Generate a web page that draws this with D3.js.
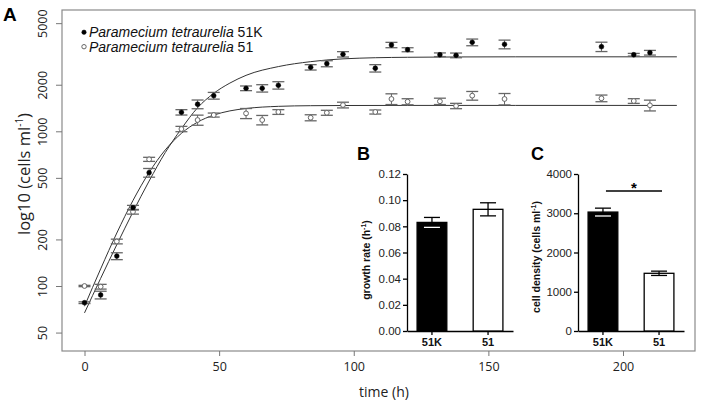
<!DOCTYPE html>
<html><head><meta charset="utf-8">
<script src="https://cdn.jsdelivr.net/npm/d3@7/dist/d3.min.js"></script>
<style>body{margin:0;background:#fff}svg{display:block}</style>
</head><body>
<svg id="c" width="701" height="406"></svg>
<script>
// ---------- data ----------
const times   = [0,6,12,18,24,36,42,48,60,66,72,84,90,96,108,114,120,132,138,144,156,192,204,210];
const mean51K = [78,87.5,156,321,540,1327,1496,1699,1897,1897,1983,2593,2736,3147,2556,3614,3368,3126,3097,3760,3649,3522,3126,3222];
const sem51K  = [1,5,8,11,35,53,97,85,66,104,109,104,123,126,140,144,100,85,108,187,236,245,62,112];
const mean51  = [100,99,194,302,659,1035,1183,1274,1306,1183,1333,1224,1318,1479,1333,1618,1554,1563,1458,1699,1618,1634,1570,1472];
const sem51   = [1,3.5,6.8,10.5,20,41,89,38,98,83,47,55,49,63,40,129,70,74,58,110,137,81,55,118];
// fitted growth curves
const fitTimes = [0,6,12,18,24,30,36,42,48,54,60,72,84,96,120,160,220];
const fit51K   = [67,112,185,301,477,729,1040,1420,1760,2050,2300,2620,2820,2940,3010,3030,3030];
const fit51    = [74,129,220,357,542,758,970,1146,1273,1355,1404,1450,1464,1468,1470,1470,1470];
const xTicks = [0,50,100,150,200];
const yTicks = [50,100,200,500,1000,2000,5000];
// insets
const strains    = ["51K","51"];
const growthRate = [0.083,0.093];
const growthSem  = [0.0038,0.005];
const density    = [3030,1470];
const densitySem = [100,55];
const rateTicks    = [0,0.02,0.04,0.06,0.08,0.10,0.12];
const densityTicks = [0,1000,2000,3000,4000];

const svg = d3.select("#c");
const F1 = "'Open Sans', 'DejaVu Sans', sans-serif";
const F2 = "'Liberation Sans', Arial, sans-serif";

// ---------- main panel A ----------
const L=62, R=695, T=10, B=351;
const x = d3.scaleLinear().domain([0,200]).range([84.5,623]);
const y = d3.scaleLog().domain([100,1000]).range([286,131.3]);

svg.append("rect").attr("x",L).attr("y",T).attr("width",R-L).attr("height",B-T)
  .attr("fill","none").attr("stroke","#8a8a8a").attr("stroke-width",1.2);

const gx = svg.append("g").attr("transform",`translate(0,${B})`)
  .call(d3.axisBottom(x).tickValues(xTicks).tickSize(5).tickPadding(6));
gx.select(".domain").remove();
gx.selectAll(".tick line").attr("stroke","#777");
gx.selectAll("text").attr("font-family",F1).attr("font-size",12.5).attr("fill","#222");

const gy = svg.append("g").attr("transform",`translate(${L},0)`)
  .call(d3.axisLeft(y).tickValues(yTicks).tickFormat(d3.format("d")).tickSize(6));
gy.select(".domain").remove();
gy.selectAll(".tick line").attr("stroke","#777");
gy.selectAll("text").attr("font-family",F1).attr("font-size",12.5).attr("fill","#222")
  .attr("x",0).attr("dy",0).attr("text-anchor","middle")
  .attr("transform","translate(-15,0) rotate(-90)");

svg.append("text").attr("x",384).attr("y",397).attr("text-anchor","middle")
  .attr("font-family",F1).attr("font-size",14).attr("fill","#222").text("time (h)");
const yl = svg.append("text").attr("transform","translate(30,174) rotate(-90)")
  .attr("text-anchor","middle").attr("font-family",F1).attr("font-size",16.5).attr("fill","#222");
yl.append("tspan").text("log10 (cells ml");
yl.append("tspan").attr("font-size",10).attr("dy",-7).text("-1");
yl.append("tspan").attr("dy",7).text(")");

svg.append("text").attr("x",3).attr("y",21).attr("font-family",F2).attr("font-weight","bold")
  .attr("font-size",19).text("A");

// fitted lines
const line = d3.line().curve(d3.curveMonotoneX);
[fit51K, fit51].forEach(vals=>{
  svg.append("path").attr("d", line(fitTimes.map((t,i)=>[x(t), y(vals[i])])))
    .attr("fill","none").attr("stroke","#333").attr("stroke-width",1);
});

// error bars + points
function series(means, sems, filled){
  const g = svg.append("g");
  times.forEach((t,i)=>{
    const cx = x(t), lo = y(means[i]-sems[i]), hi = y(means[i]+sems[i]);
    g.append("line").attr("x1",cx).attr("x2",cx).attr("y1",lo).attr("y2",hi)
      .attr("stroke","#555").attr("stroke-width",0.9);
    [lo,hi].forEach(yy=>g.append("line").attr("x1",cx-6).attr("x2",cx+6).attr("y1",yy).attr("y2",yy)
      .attr("stroke","#666").attr("stroke-width",1.3));
    g.append("circle").attr("cx",cx).attr("cy",y(means[i])).attr("r",2.4)
      .attr("fill",filled?"#000":"#fff").attr("stroke",filled?"#000":"#666").attr("stroke-width",filled?0.5:1);
  });
}
series(mean51, sem51, false);
series(mean51K, sem51K, true);

// legend
const leg = [{lab:"51K",filled:true,y:37},{lab:"51",filled:false,y:51.5}];
leg.forEach(d=>{
  svg.append("circle").attr("cx",84).attr("cy",d.y-4.8).attr("r",2.2)
    .attr("fill",d.filled?"#000":"#fff").attr("stroke",d.filled?"#000":"#666").attr("stroke-width",d.filled?0.5:1);
  const t = svg.append("text").attr("x",89).attr("y",d.y).attr("font-family",F2).attr("font-size",14).attr("fill","#111");
  t.append("tspan").attr("font-style","italic").text("Paramecium tetraurelia");
  t.append("tspan").text(" "+d.lab);
});

// ---------- insets ----------
function inset(opts){
  const {x0,x1,vals,sems,ticks,fmt,label,letter,letterX,labX,labY} = opts;
  const yb = d3.scaleLinear().domain([0,ticks[ticks.length-1]]).range([331,174]);
  const xb = d3.scaleBand().domain(strains).range([x0,x1]).paddingInner(0.47).paddingOuter(0.18);
  const g = svg.append("g");
  const ga = g.append("g").attr("transform",`translate(${x0},0)`)
    .call(d3.axisLeft(yb).tickValues(ticks).tickFormat(fmt).tickSize(4).tickPadding(2).tickSizeOuter(0));
  ga.selectAll("text").attr("font-family",F2).attr("font-size",11.5).attr("fill","#222");
  ga.selectAll("line,path").attr("stroke","#000").attr("stroke-width",1.3);
  const gb = g.append("g").attr("transform",`translate(0,331)`)
    .call(d3.axisBottom(xb).tickSize(4).tickPadding(3).tickSizeOuter(0));
  gb.selectAll("text").attr("font-family",F2).attr("font-size",11).attr("font-weight","bold").attr("fill","#111");
  gb.selectAll("line,path").attr("stroke","#000").attr("stroke-width",1.3);
  strains.forEach((s,i)=>{
    const bx = xb(s), bw = xb.bandwidth(), cx = bx+bw/2;
    g.append("rect").attr("x",bx).attr("y",yb(vals[i])).attr("width",bw).attr("height",331-yb(vals[i]))
      .attr("fill",i===0?"#000":"#fff").attr("stroke","#000").attr("stroke-width",1.3);
    const hi = yb(vals[i]+sems[i]), lo = yb(vals[i]-sems[i]);
    g.append("line").attr("x1",cx).attr("x2",cx).attr("y1",lo).attr("y2",hi).attr("stroke","#000").attr("stroke-width",1.3);
    [hi,lo].forEach(yy=>g.append("line").attr("x1",cx-8).attr("x2",cx+8).attr("y1",yy).attr("y2",yy)
      .attr("stroke",i===0&&yy===lo?"#fff":"#000").attr("stroke-width",1.3));
  });
  const t = g.append("text").attr("transform",`translate(${labX},${labY}) rotate(-90)`).attr("text-anchor","middle")
    .attr("font-family",F2).attr("font-size",10.5).attr("font-weight","bold").attr("fill","#111");
  t.append("tspan").text(label);
  t.append("tspan").attr("font-size",7).attr("dy",-4).text("-1");
  t.append("tspan").attr("dy",4).text(")");
  g.append("text").attr("x",letterX).attr("y",160).attr("font-family",F2).attr("font-weight","bold")
    .attr("font-size",18).text(letter);
  return {xb,yb,g};
}
inset({x0:407,x1:513,vals:growthRate,sems:growthSem,ticks:rateTicks,fmt:d3.format(".2f"),
  label:"growth rate (h",letter:"B",letterX:357,labX:370,labY:260});
const c = inset({x0:578,x1:684,vals:density,sems:densitySem,ticks:densityTicks,fmt:d3.format("d"),
  label:"cell density (cells ml",letter:"C",letterX:531,labX:540,labY:257});
// significance marker
const sx1 = c.xb("51K")+c.xb.bandwidth()/2, sx2 = c.xb("51")+c.xb.bandwidth()/2;
c.g.append("line").attr("x1",sx1+3).attr("x2",sx2+3).attr("y1",191).attr("y2",191).attr("stroke","#000").attr("stroke-width",1.3);
c.g.append("text").attr("x",(sx1+sx2)/2+3).attr("y",193).attr("text-anchor","middle")
  .attr("font-family",F2).attr("font-weight","bold").attr("font-size",15).text("*");
</script>
</body></html>
